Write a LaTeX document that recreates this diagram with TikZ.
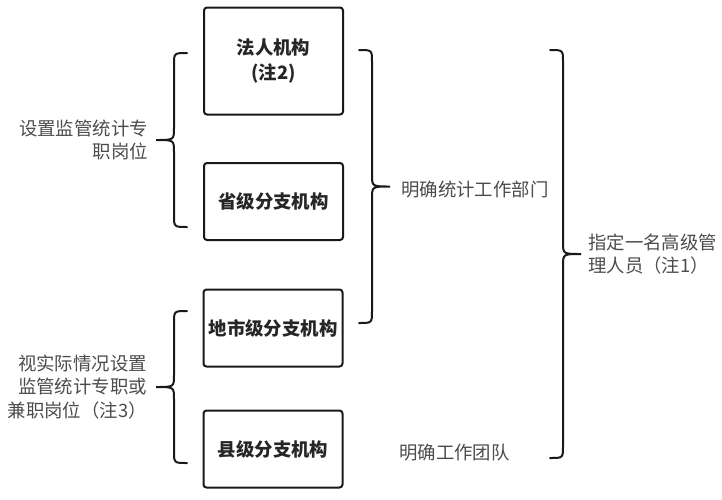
\documentclass[tikz,border=0pt]{standalone}
\usepackage{fontspec}
\setmainfont{Noto Sans CJK SC}
\usetikzlibrary{positioning}
\newcommand{\curly}[5]{% end x, side (+1 right, -1 left), top y, bottom y, tip name
	\draw [bracket] (#1,#3) .. controls ({#1+13*(#2)},#3) .. ({#1+13*(#2)},{#3+12})
		-- ({#1+13*(#2)},{(#3+#4)/2-12}) .. controls ({#1+13*(#2)},{(#3+#4)/2}) .. ({#1+31*(#2)},{(#3+#4)/2}) coordinate (#5)
		.. controls ({#1+13*(#2)},{(#3+#4)/2}) .. ({#1+13*(#2)},{(#3+#4)/2+12})
		-- ({#1+13*(#2)},{#4-12}) .. controls ({#1+13*(#2)},#4) .. (#1,#4);}

\begin{document}
\begin{tikzpicture}[x=1pt, y=-1pt,
		orgbox/.style={draw=black!90, line width=2pt, rounded corners=3pt, minimum width=139pt,
			minimum height=77pt, align=center, inner sep=0pt, text=black!85,
			font=\fontsize{18.4}{25}\selectfont\bfseries},
		note/.style={inner sep=0pt, text=black!70, font=\fontsize{18.4}{23.5}\selectfont},
		bracket/.style={draw=black!90, line width=2pt, line cap=round}]
		\useasboundingbox (0,0) rectangle (722,499);
		% boxes
		\node [orgbox, minimum height=107pt] (faren) at (273.5,61) {法人机构\\(注2)};
		\node [orgbox] (shengji) at (273.5,201.5) {省级分支机构};
		\node [orgbox] (dishi) at (273,328) {地市级分支机构};
		\node [orgbox] (xianji) at (273,449) {县级分支机构};
		% braces
		\curly{187}{-1}{53}{227}{brZhuan}
		\curly{187}{-1}{311}{463}{brJian}
		\curly{359}{1}{50}{323}{brBumen}
		\curly{550}{1}{50}{458}{brGuanli}
		% labels
		\node [note, align=right, left=8pt of brZhuan] (zhuanzhi) {设置监管统计专\\职岗位};
		\node [note, align=right, left=9pt of brJian] (jianzhi) {视实际情况设置\\监管统计专职或\\兼职岗位（注3）};
		\node [note, right=11pt of brBumen, yshift=-3pt] (bumen) {明确统计工作部门};
		\node [note, align=left, right=7pt of brGuanli] (guanli) {指定一名高级管\\理人员（注1）};
		\node [note, anchor=west] (tuandui) at (399,453) {明确工作团队};
	\end{tikzpicture}
\end{document}
